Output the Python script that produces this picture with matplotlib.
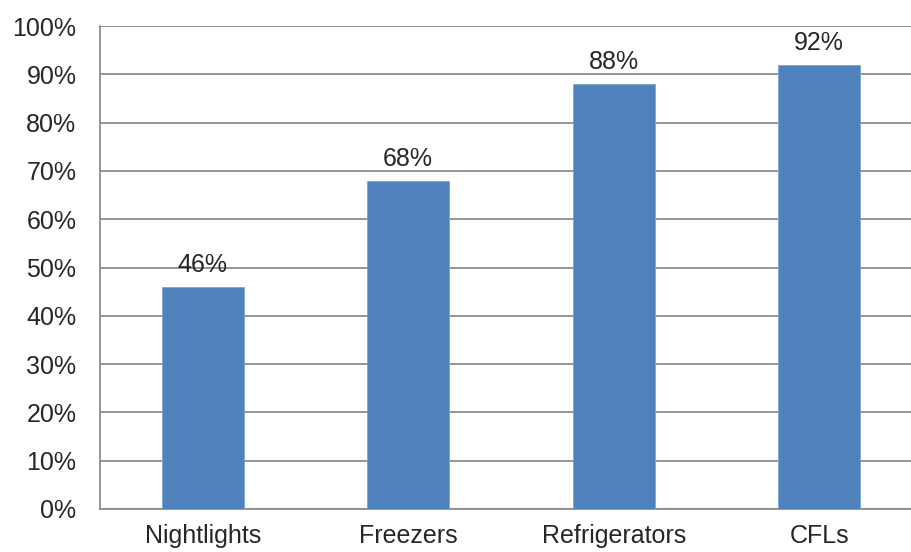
import matplotlib.pyplot as plt
from matplotlib.ticker import PercentFormatter

categories = ['Nightlights', 'Freezers', 'Refrigerators', 'CFLs']
values = [46, 68, 88, 92]
yticks = list(range(0, 101, 10))

plt.rcParams['font.family'] = ['Liberation Sans', 'DejaVu Sans']

fig = plt.figure(figsize=(9.12, 5.52), dpi=100)
# the plot area runs past the right edge of the image, as in the original
ax = fig.add_axes([100 / 912, 43 / 552, 822 / 912, 483 / 552])

x = range(len(categories))
ax.bar(x, values, width=0.4, color='#4F81BD', edgecolor='#7EA3D3', linewidth=0.6, zorder=3)
for xi, v in zip(x, values):
    ax.annotate(f'{v}%', (xi, v), xytext=(0, 10), textcoords='offset pixels',
                ha='center', va='bottom', fontsize=18, color='#262626')

ax.set_xlim(-0.5, len(categories) - 0.5)
ax.set_ylim(0, 100)
ax.set_yticks(yticks)
ax.yaxis.set_major_formatter(PercentFormatter(decimals=0))
ax.set_xticks(list(x))
ax.set_xticklabels(categories)

ax.grid(axis='y', color='#8C8C8C', linewidth=1.3, zorder=0)
ax.tick_params(length=0, labelsize=18, labelcolor='#262626')
ax.tick_params(axis='y', pad=17)
ax.tick_params(axis='x', pad=11)
for side in ['top', 'right']:
    ax.spines[side].set_visible(False)
for side in ['left', 'bottom']:
    ax.spines[side].set_color('#8C8C8C')
    ax.spines[side].set_linewidth(1.3)

fig.savefig('out.png', dpi=100)
